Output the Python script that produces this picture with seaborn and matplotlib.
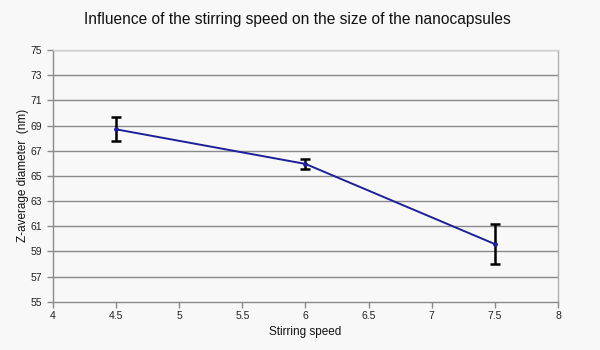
import matplotlib
matplotlib.use("Agg")
import matplotlib.pyplot as plt
import seaborn as sns
import pandas as pd

speed = [4.5, 6.0, 7.5]
diameter = [68.70, 65.95, 59.58]
err = [0.94, 0.43, 1.59]
x_ticks = [4, 4.5, 5, 5.5, 6, 6.5, 7, 7.5, 8]
y_ticks = [55, 57, 59, 61, 63, 65, 67, 69, 71, 73, 75]

sns.set_theme(style="white")
plt.rcParams['font.family'] = ['Liberation Sans', 'DejaVu Sans']

bg = "#f8f8f8"
fig = plt.figure(figsize=(6, 3.5), dpi=100, facecolor=bg)
ax = fig.add_axes([0.0883, 0.138, 0.8417, 0.719])
ax.set_facecolor(bg)

df = pd.DataFrame({"speed": speed, "diameter": diameter, "err": err})

for y in y_ticks[1:]:
    ax.axhline(y, color="#8a8a8a", lw=1.0, zorder=1)

ax.errorbar(df["speed"], df["diameter"], yerr=df["err"], fmt="none",
            ecolor="black", elinewidth=1.8, capsize=3.5, capthick=1.8, zorder=2)
sns.lineplot(data=df, x="speed", y="diameter", ax=ax, color="#1f1f99",
             lw=1.4, marker="o", markersize=3.5, markeredgewidth=0, zorder=3)

ax.set_xlim(4, 8)
ax.set_ylim(55, 75)
ax.set_xticks(x_ticks)
ax.set_xticklabels([f"{t:g}" for t in x_ticks])
ax.set_yticks(y_ticks)

for s in ["top", "right"]:
    ax.spines[s].set_visible(True)
ax.spines["top"].set_color("#d0d0d0")
ax.spines["right"].set_color("#b0b0b0")
ax.spines["left"].set_color("#8a8a8a")
ax.spines["bottom"].set_color("#8a8a8a")
for s in ax.spines.values():
    s.set_linewidth(1.0)

ax.tick_params(axis="both", direction="out", length=4, width=1, color="#8a8a8a",
               labelsize=7.5, labelcolor="#222222", pad=4)
ax.tick_params(axis="x", which="both", bottom=True, pad=3)
ax.tick_params(axis="y", which="both", left=True)

ax.set_xlabel("Stirring speed", fontsize=8.5, color="#111111", labelpad=3)
ax.set_ylabel("Z-average diameter  (nm)", fontsize=8.5, color="#111111", labelpad=1)
fig.suptitle("Influence of the stirring speed on the size of the nanocapsules",
             x=0.495, y=0.965, fontsize=11.2, color="#111111")

fig.savefig("out.png", dpi=100, facecolor=bg)
